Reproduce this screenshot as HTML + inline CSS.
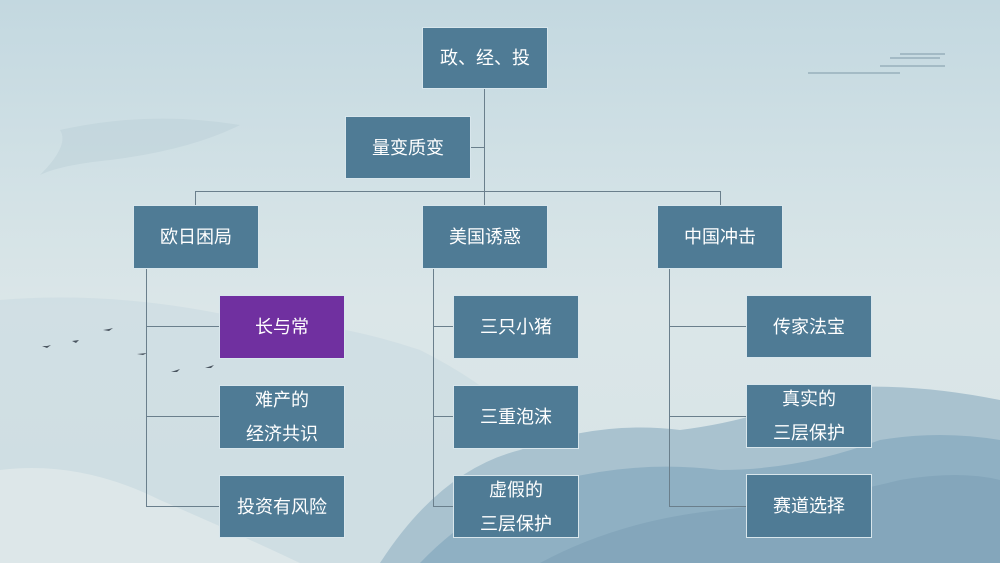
<!DOCTYPE html>
<html><head><meta charset="utf-8"><style>
html,body{margin:0;padding:0}
body{width:1000px;height:563px;position:relative;overflow:hidden;font-family:"Liberation Sans","Noto Sans CJK SC",sans-serif;background:linear-gradient(180deg,#c3d8e0 0%,#d3e2e6 35%,#dbe6e8 55%,#d6e3e6 100%)}
.b{position:absolute;background:#4f7b95;border:1px solid #d8e6ec;color:#fff;font-size:18px;display:flex;align-items:center;justify-content:center;text-align:center;line-height:34px;box-sizing:border-box}
.l{position:absolute;background:#6a7f8c}
</style></head><body>
<svg style="position:absolute;left:0;top:0" width="1000" height="563">
<path d="M0 300 Q120 290 250 320 Q330 320 420 350 Q520 400 560 470 L560 563 L0 563Z" fill="#cadbe1" opacity=".6"/>
<path d="M380 563 Q440 470 520 450 Q600 420 680 430 Q760 420 820 390 Q900 380 1000 400 L1000 563Z" fill="#a9c2cf"/>
<path d="M420 563 Q480 500 560 480 Q640 460 720 470 Q800 470 880 440 Q940 430 1000 440 L1000 563Z" fill="#8fb0c3"/>
<path d="M540 563 Q620 520 720 510 Q820 500 900 480 Q960 470 1000 480 L1000 563Z" fill="#7fa2b8" opacity=".7"/>
<path d="M0 563 L0 470 Q80 460 160 500 Q230 530 300 563Z" fill="#e0e8ea" opacity=".8"/>
<path d="M60 130 Q150 110 240 125 Q190 150 110 160 Q60 165 40 175 Q70 145 60 130Z" fill="#bccfd7" opacity=".5"/>
<g stroke="#7f9aa8" fill="none" stroke-width="1"><path d="M808 73 L900 73 M880 66 L945 66 M890 58 L940 58 M900 54 L945 54"/></g>
<g fill="#4a5560"><path d="M42 346 l5 2 l4-3 l-4 1z"/><path d="M72 341 l4 2 l3-3z"/><path d="M103 330 l6 1 l4-3 l-4 1z"/><path d="M137 354 l6 1 l4-2z"/><path d="M171 372 l6 0 l3-3z"/><path d="M205 368 l6 0 l3-3z"/></g>
</svg>
<div class="l" style="left:484px;top:88px;width:1px;height:118px"></div>
<div class="l" style="left:471px;top:147px;width:13px;height:1px"></div>
<div class="l" style="left:195px;top:191px;width:526px;height:1px"></div>
<div class="l" style="left:195px;top:191px;width:1px;height:15px"></div>
<div class="l" style="left:720px;top:191px;width:1px;height:15px"></div>
<div class="l" style="left:146px;top:268px;width:1px;height:239px"></div>
<div class="l" style="left:146px;top:326px;width:73px;height:1px"></div>
<div class="l" style="left:146px;top:416px;width:73px;height:1px"></div>
<div class="l" style="left:146px;top:506px;width:73px;height:1px"></div>
<div class="l" style="left:433px;top:268px;width:1px;height:239px"></div>
<div class="l" style="left:433px;top:326px;width:20px;height:1px"></div>
<div class="l" style="left:433px;top:416px;width:20px;height:1px"></div>
<div class="l" style="left:433px;top:506px;width:20px;height:1px"></div>
<div class="l" style="left:669px;top:268px;width:1px;height:239px"></div>
<div class="l" style="left:669px;top:326px;width:77px;height:1px"></div>
<div class="l" style="left:669px;top:416px;width:77px;height:1px"></div>
<div class="l" style="left:669px;top:506px;width:77px;height:1px"></div>

<div class="b" style="left:422px;top:27px;width:126px;height:62px">政、经、投</div>
<div class="b" style="left:345px;top:116px;width:126px;height:63px">量变质变</div>
<div class="b" style="left:133px;top:205px;width:126px;height:64px">欧日困局</div>
<div class="b" style="left:422px;top:205px;width:126px;height:64px">美国诱惑</div>
<div class="b" style="left:657px;top:205px;width:126px;height:64px">中国冲击</div>
<div class="b" style="left:219px;top:295px;width:126px;height:64px;background:#7030a0">长与常</div>
<div class="b" style="left:219px;top:385px;width:126px;height:64px">难产的<br>经济共识</div>
<div class="b" style="left:219px;top:475px;width:126px;height:63px">投资有风险</div>
<div class="b" style="left:453px;top:295px;width:126px;height:64px">三只小猪</div>
<div class="b" style="left:453px;top:385px;width:126px;height:64px">三重泡沫</div>
<div class="b" style="left:453px;top:475px;width:126px;height:63px">虚假的<br>三层保护</div>
<div class="b" style="left:746px;top:295px;width:126px;height:63px">传家法宝</div>
<div class="b" style="left:746px;top:384px;width:126px;height:64px">真实的<br>三层保护</div>
<div class="b" style="left:746px;top:474px;width:126px;height:64px">赛道选择</div>
</body></html>
